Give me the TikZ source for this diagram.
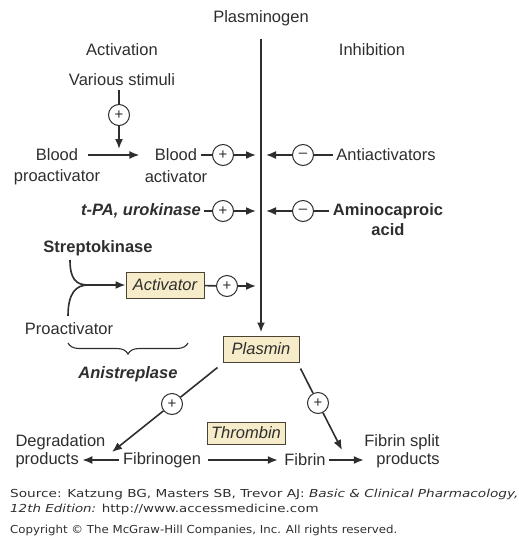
\documentclass[tikz,border=0pt]{standalone}
\usepackage{fontspec}
\setmainfont{Liberation Sans}
\newfontfamily\srcfont{DejaVu Sans}
\usetikzlibrary{arrows.meta, positioning, decorations.pathreplacing}

\definecolor{ink}{HTML}{2E2E2E}
\definecolor{boxfill}{HTML}{F7ECC9}
\definecolor{boxline}{HTML}{4A4232}

\begin{document}
\begin{tikzpicture}[
    x=1pt, y=-1pt,
    every node/.style={
        text=ink,
        font=\fontsize{16.5}{19}\selectfont,
    },
    flow/.style={
        draw=ink,
        line width=1.6pt,
        -{Latex[length=10pt,width=8pt]},
    },
    link/.style={
        draw=ink,
        line width=1.6pt,
    },
    sign/.style={
        circle,
        draw=ink,
        line width=1pt,
        minimum size=21pt,
        inner sep=0pt,
        font=\fontsize{15}{15}\selectfont,
    },
    agent/.style={
        draw=boxline,
        fill=boxfill,
        line width=1pt,
        minimum width=78pt,
        minimum height=26pt,
        inner sep=2pt,
        font=\fontsize{16.5}{19}\selectfont\itshape,
    },
    drug/.style={
        font=\fontsize{16.5}{19}\selectfont\bfseries,
    },
    source/.style={
        anchor=west,
        inner sep=0pt,
        font=\fontsize{11}{12}\srcfont,
    }
]
    \useasboundingbox (0,0) rectangle (519,538);

    % Main axis
    \node (plasminogen) at (261,18) {Plasminogen};
    \node[agent, minimum width=76pt] (plasmin) at (261,349) {Plasmin};
    \draw[flow, line width=2.3pt, shorten <=10pt, shorten >=3pt] (plasminogen) -- (plasmin);
    \coordinate (ax1l) at (256,155);
    \coordinate (ax1r) at (266,155);
    \coordinate (ax2l) at (256,211);
    \coordinate (ax2r) at (266,211);
    \coordinate (ax3l) at (256,286);

    % Headings
    \node (activation) at (122,50) {Activation};
    \node (inhibition) at (372,50) {Inhibition};

    % Blood activator
    \node (stimuli) at (122,80) {Various stimuli};
    \node[sign] (pstim) at (119,115) {+};
    \coordinate (meet) at (119,149);
    \node (bproact) at (57,155) {Blood};
    \node at (57,177) {proactivator};
    \node (bact) at (176,155) {Blood};
    \node at (176,177) {activator};
    \node[sign] (p1) at (223,155) {+};
    \node[sign] (m1) at (303,155) {--};
    \node (antiact) at (386,155) {Antiactivators};

    \draw[link] (stimuli.south -| pstim) -- (pstim);
    \draw[flow] (pstim) -- (meet);
    \draw[flow, shorten <=6pt, shorten >=12pt] (bproact) -- (bact);
    \draw[link] (bact) -- (p1);
    \draw[flow] (p1) -- (ax1l);
    \draw[link] (antiact) -- (m1);
    \draw[flow] (m1) -- (ax1r);

    % Drugs
    \node[drug, font=\fontsize{16.5}{19}\selectfont\bfseries\itshape] (tpa) at (141,211) {t-PA, urokinase};
    \node[sign] (p2) at (223,211) {+};
    \node[sign] (m2) at (303,211) {--};
    \node[drug] (amino) at (388,211) {Aminocaproic};
    \node[drug] at (388,230) {acid};

    \draw[link] (tpa) -- (p2);
    \draw[flow] (p2) -- (ax2l);
    \draw[link] (amino) -- (m2);
    \draw[flow] (m2) -- (ax2r);

    % Streptokinase
    \node[drug] (strepto) at (98,248) {Streptokinase};
    \node (proact) at (69,329) {Proactivator};
    \node[agent] (activator) at (165,285) {Activator};
    \node[sign] (p3) at (227,286) {+};
    \coordinate (sk) at (70,260);
    \coordinate (pa) at (68,316);
    \coordinate (join) at (88,285);

    \draw[link] (sk) .. controls (70,279) and (76,285) .. (join);
    \draw[link] (pa) .. controls (68,293) and (76,285) .. (join);
    \draw[flow] (join) -- (activator);
    \draw[link] (activator) -- (p3);
    \draw[flow] (p3) -- (ax3l);

    \draw[ink, line width=1.1pt, decorate, decoration={brace, amplitude=11pt, mirror}] (68,343) -- (188,343);
    \node[drug, font=\fontsize{16.5}{19}\selectfont\bfseries\itshape] (anistreplase) at (128,374) {Anistreplase};

    % Fibrin
    \node[anchor=west] (degr) at (12,442) {Degradation};
    \node[anchor=west] (degrprod) at (12,460) {products};
    \node (fibrinogen) at (162,460) {Fibrinogen};
    \node (fibrin) at (305,460) {Fibrin};
    \node (split) at (402,442) {Fibrin split};
    \node (splitprod) at (408,460) {products};
    \node[agent, minimum height=22pt] (thrombin) at (246,433) {Thrombin};

    \draw[flow] (fibrinogen) -- (degrprod);
    \draw[flow, shorten <=3pt, shorten >=3pt] (fibrinogen) -- (fibrin);
    \draw[flow, shorten >=9pt] (fibrin) -- (splitprod);

    % Plasmin action
    \node[sign] (p4) at (172,404) {+};
    \node[sign] (p5) at (318,403) {+};
    \coordinate (degrtip) at (112,452);
    \coordinate (fibrintip) at (342,450);

    \draw[link] ([xshift=-5pt, yshift=-5pt]plasmin.south west) -- (p4);
    \draw[flow] (p4) -- (degrtip);
    \draw[link] ([xshift=1pt, yshift=-6pt]plasmin.south east) -- (p5);
    \draw[flow] (p5) -- (fibrintip);

    % Source
    \node[source] (src1) at (10,494) {\scalebox{1.24}[1]{Source: Katzung BG, Masters SB, Trevor AJ: \textit{Basic \& Clinical Pharmacology,}}};
    \node[source] (src2) at (10,509) {\scalebox{1.22}[1]{\textit{12th Edition:} http://www.accessmedicine.com}};
    \node[source] (copyright) at (10,530) {\scalebox{1.07}[1]{Copyright \textcopyright\ The McGraw-Hill Companies, Inc. All rights reserved.}};
\end{tikzpicture}
\end{document}
